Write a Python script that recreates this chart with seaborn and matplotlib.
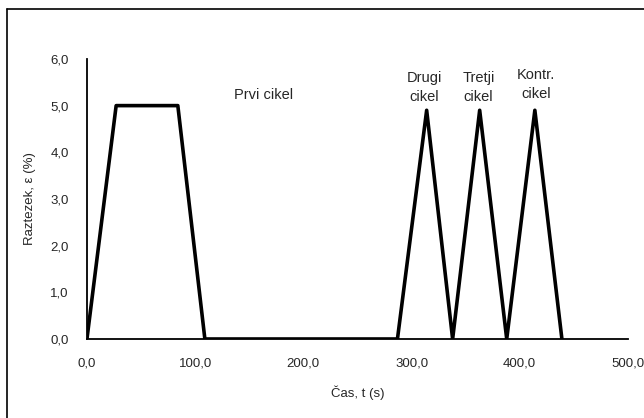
import numpy as np
import pandas as pd
import matplotlib
matplotlib.use("Agg")
import matplotlib.pyplot as plt
import seaborn as sns

# podatki odčitani s slike
cas = [0, 27, 84, 109, 287, 314, 338, 363, 388, 414, 439]
raztezek = [0.0, 5.0, 5.0, 0.0, 0.0, 4.9, 0.0, 4.9, 0.0, 4.9, 0.0]

oznake = ["Prvi cikel", "Drugi\ncikel", "Tretji\ncikel", "Kontr.\ncikel"]
oznake_x = [163, 312, 362, 415]
oznake_y = [5.22, 5.38, 5.38, 5.45]

xticks = [0, 100, 200, 300, 400, 500]
yticks = [0, 1, 2, 3, 4, 5, 6]

df = pd.DataFrame({"cas": cas, "raztezek": raztezek})

sns.set_style("white")
plt.rcParams['font.family'] = ['Liberation Sans', 'DejaVu Sans']

fig = plt.figure(figsize=(6.44, 4.18), dpi=100)
ax = fig.add_axes([0.135, 0.189, 0.84, 0.670])

sns.lineplot(data=df, x="cas", y="raztezek", color="black", linewidth=2.6, ax=ax)

for t, x, y in zip(oznake, oznake_x, oznake_y):
    ax.text(x, y, t, fontsize=10.5, ha="center", va="center", linespacing=1.45)

ax.set_xlim(0, 500)
ax.set_ylim(0, 6)
ax.set_xticks(xticks)
ax.set_yticks(yticks)
ax.set_xticklabels([f"{v:.1f}".replace(".", ",") for v in xticks], fontsize=9.5)
ax.set_yticklabels([f"{v:.1f}".replace(".", ",") for v in yticks], fontsize=9.5)
ax.set_xlabel("Čas, t (s)", fontsize=9.5, labelpad=12)
ax.set_ylabel("Raztezek, ε (%)", fontsize=9.5, labelpad=10)

for s in ["top", "right"]:
    ax.spines[s].set_visible(False)
for s in ["left", "bottom"]:
    ax.spines[s].set_color("black")
    ax.spines[s].set_linewidth(1.3)
ax.tick_params(axis="both", direction="out", length=4, width=1.3, color="black", pad=9)

# okvir okoli grafa (levi in zgornji rob)
fig.add_artist(plt.Line2D([0.011, 0.011], [0, 0.978], color="black", linewidth=1.2, transform=fig.transFigure))
fig.add_artist(plt.Line2D([0.011, 1.0], [0.978, 0.978], color="black", linewidth=1.2, transform=fig.transFigure))

fig.savefig("out.png", dpi=100)
